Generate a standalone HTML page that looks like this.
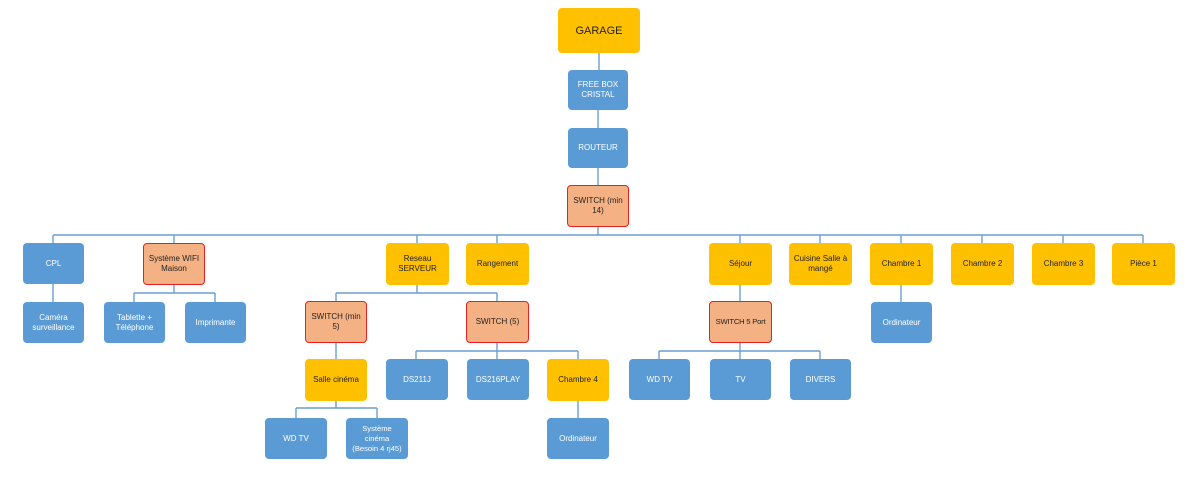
<!DOCTYPE html>
<html><head><meta charset="utf-8"><style>
body{margin:0;width:1189px;height:480px;background:#fff;position:relative;overflow:hidden;font-family:"Liberation Sans",sans-serif}
.b{position:absolute;box-sizing:border-box;border-radius:4px;display:flex;align-items:center;justify-content:center;text-align:center;font-size:8px;line-height:10px;padding:0 2px}
.u{background:#5b9bd5;color:#fff}
.o{background:#ffc000;color:#222}
.s{background:#f4b183;color:#222;border:1px solid #e8201e}
svg{position:absolute;left:0;top:0}
</style></head><body>
<svg width="1189" height="480"><g stroke="#6a9fd3" stroke-width="1.4" fill="none">
<path d="M599 53V70M598 110V128M598 168V185M598 227V235"/>
<path d="M53 235H1143M53 235V243M174 235V243M417 235V243M497 235V243M740 235V243M820 235V243M901 235V243M982 235V243M1063 235V243M1143 235V243"/>
<path d="M53 284V302M174 284V293M134 293H215M134 293V302M215 293V302"/>
<path d="M417 284V293M336 293H497M336 293V302M497 293V302"/>
<path d="M336 343V359M497 343V351M416 351H578M416 351V359M497 351V359M578 351V359"/>
<path d="M740 284V302M740 343V351M659 351H820M659 351V359M740 351V359M820 351V359"/>
<path d="M901 284V302"/>
<path d="M336 400V408M296 408H377M296 408V418M377 408V418M578 400V418"/>
</g></svg>
<div class="b o" style="left:558px;top:8px;width:82px;height:45px;font-size:11px">GARAGE</div>
<div class="b u" style="left:568px;top:70px;width:60px;height:40px">FREE BOX CRISTAL</div>
<div class="b u" style="left:568px;top:128px;width:60px;height:40px">ROUTEUR</div>
<div class="b s" style="left:567px;top:185px;width:62px;height:42px">SWITCH (min 14)</div>

<div class="b u" style="left:23px;top:243px;width:61px;height:41px">CPL</div>
<div class="b s" style="left:143px;top:243px;width:62px;height:42px">Système WIFI Maison</div>
<div class="b o" style="left:386px;top:243px;width:63px;height:42px">Reseau SERVEUR</div>
<div class="b o" style="left:466px;top:243px;width:63px;height:42px">Rangement</div>
<div class="b o" style="left:709px;top:243px;width:63px;height:42px">Séjour</div>
<div class="b o" style="left:789px;top:243px;width:63px;height:42px">Cuisine Salle à mangé</div>
<div class="b o" style="left:870px;top:243px;width:63px;height:42px">Chambre 1</div>
<div class="b o" style="left:951px;top:243px;width:63px;height:42px">Chambre 2</div>
<div class="b o" style="left:1032px;top:243px;width:63px;height:42px">Chambre 3</div>
<div class="b o" style="left:1112px;top:243px;width:63px;height:42px">Pièce 1</div>

<div class="b u" style="left:23px;top:302px;width:61px;height:41px">Caméra<br>surveillance</div>
<div class="b u" style="left:104px;top:302px;width:61px;height:41px">Tablette +<br>Téléphone</div>
<div class="b u" style="left:185px;top:302px;width:61px;height:41px">Imprimante</div>
<div class="b s" style="left:305px;top:301px;width:62px;height:42px">SWITCH (min 5)</div>
<div class="b s" style="left:466px;top:301px;width:63px;height:42px">SWITCH (5)</div>
<div class="b s" style="left:709px;top:301px;width:63px;height:42px;padding:0;white-space:nowrap;font-size:7.6px;letter-spacing:-0.2px">SWITCH 5 Port</div>
<div class="b u" style="left:871px;top:302px;width:61px;height:41px">Ordinateur</div>

<div class="b o" style="left:305px;top:359px;width:62px;height:42px">Salle cinéma</div>
<div class="b u" style="left:386px;top:359px;width:62px;height:41px">DS211J</div>
<div class="b u" style="left:467px;top:359px;width:62px;height:41px">DS216PLAY</div>
<div class="b o" style="left:547px;top:359px;width:62px;height:42px">Chambre 4</div>
<div class="b u" style="left:629px;top:359px;width:61px;height:41px">WD TV</div>
<div class="b u" style="left:710px;top:359px;width:61px;height:41px">TV</div>
<div class="b u" style="left:790px;top:359px;width:61px;height:41px">DIVERS</div>

<div class="b u" style="left:265px;top:418px;width:62px;height:41px">WD TV</div>
<div class="b u" style="left:346px;top:418px;width:62px;height:41px;padding:0;white-space:nowrap;font-size:7.6px">Système<br>cinéma<br>(Besoin 4 rj45)</div>
<div class="b u" style="left:547px;top:418px;width:62px;height:41px">Ordinateur</div>
</body></html>
